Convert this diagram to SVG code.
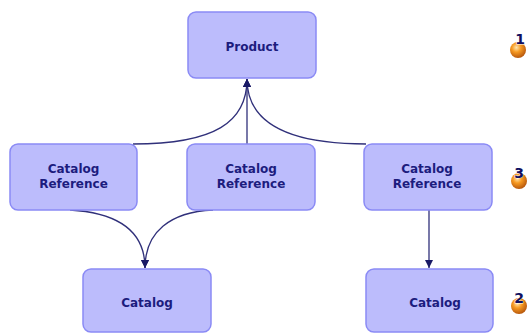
<svg xmlns="http://www.w3.org/2000/svg" width="528" height="333" viewBox="0 0 528 333">
<style>
.box{fill:#BCBCFC;stroke:#8A8AF5;stroke-width:1.5}
.lbl{font-family:"DejaVu Sans",Verdana,sans-serif;font-weight:bold;font-size:12px;fill:#1C1C7E;text-anchor:middle}
.con{fill:none;stroke:#30307A;stroke-width:1.3}
.num{font-family:"DejaVu Sans",Verdana,sans-serif;font-weight:bold;font-size:14px;fill:#101060;text-anchor:middle;stroke:#fff;stroke-width:0.8;paint-order:stroke}
</style>
<defs>
<marker id="arr" viewBox="0 0 10 10" refX="10" refY="5" markerWidth="8" markerHeight="8" orient="auto" markerUnits="userSpaceOnUse">
<path d="M0,0 L10,5 L0,10 z" fill="#1A1A66"/>
</marker>
<radialGradient id="ball" cx="0.4" cy="0.35" r="0.7">
<stop offset="0" stop-color="#FFE6B0"/>
<stop offset="0.4" stop-color="#F79A22"/>
<stop offset="1" stop-color="#B0500A"/>
</radialGradient>
</defs>
<g id="connectors">
<path class="con" d="M133,144 C215,144 247,122 247,79" marker-end="url(#arr)"/>
<path class="con" d="M247,144 L247,79" marker-end="url(#arr)"/>
<path class="con" d="M366,144 C285,144 247,122 247,79" marker-end="url(#arr)"/>
<path class="con" d="M70,210 C120,213 145,232 145,268" marker-end="url(#arr)"/>
<path class="con" d="M213,210 C170,212 145,232 145,268" marker-end="url(#arr)"/>
<path class="con" d="M429,210 L429,268" marker-end="url(#arr)"/>
</g>
<g id="product">
<rect class="box" x="188" y="12" width="128" height="66" rx="8"/>
<text class="lbl" x="252" y="51">Product</text>
</g>
<g id="catref1">
<rect class="box" x="10" y="144" width="127" height="66" rx="8"/>
<text class="lbl" x="73.5" y="173">Catalog</text>
<text class="lbl" x="73.5" y="188">Reference</text>
</g>
<g id="catref2">
<rect class="box" x="187" y="144" width="128" height="66" rx="8"/>
<text class="lbl" x="251" y="173">Catalog</text>
<text class="lbl" x="251" y="188">Reference</text>
</g>
<g id="catref3">
<rect class="box" x="364" y="144" width="128" height="66" rx="8"/>
<text class="lbl" x="427" y="173">Catalog</text>
<text class="lbl" x="427" y="188">Reference</text>
</g>
<g id="catalog1">
<rect class="box" x="83" y="269" width="128" height="63" rx="8"/>
<text class="lbl" x="147" y="307">Catalog</text>
</g>
<g id="catalog2">
<rect class="box" x="366" y="269" width="127" height="63" rx="8"/>
<text class="lbl" x="435" y="307">Catalog</text>
</g>
<g id="marker1">
<circle cx="518" cy="50" r="8" fill="url(#ball)"/>
<text class="num" x="520" y="44">1</text>
</g>
<g id="marker3">
<circle cx="519" cy="181" r="8" fill="url(#ball)"/>
<text class="num" x="519" y="178">3</text>
</g>
<g id="marker2">
<circle cx="519" cy="306" r="8" fill="url(#ball)"/>
<text class="num" x="519" y="303">2</text>
</g>
</svg>
